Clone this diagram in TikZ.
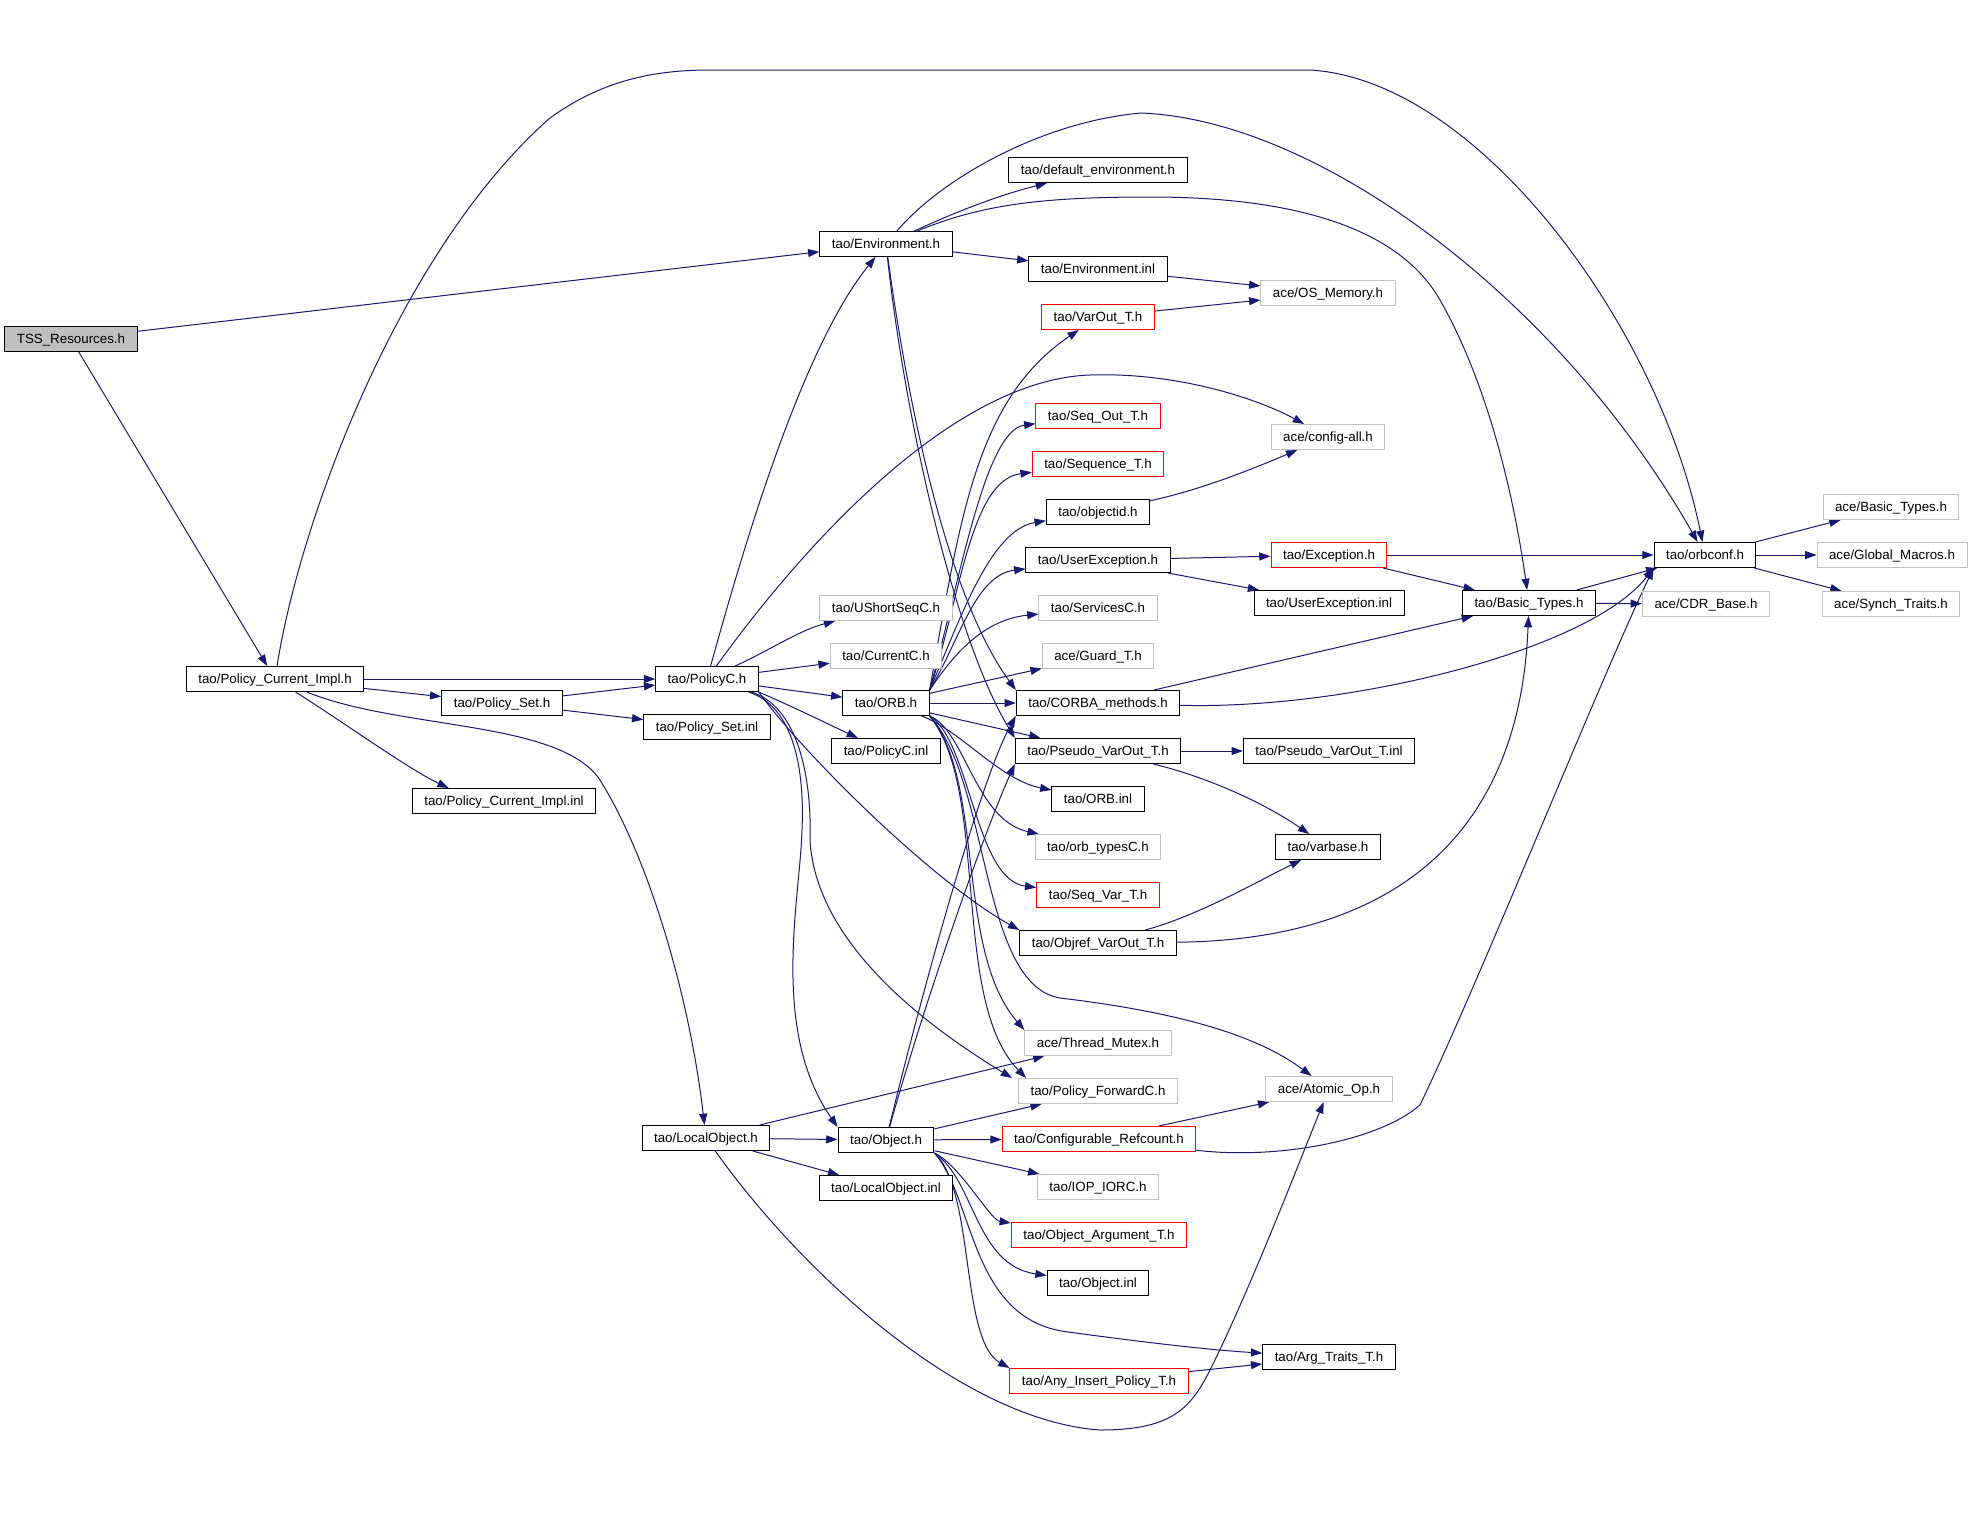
\documentclass[tikz,border=0pt]{standalone}
\usepackage{fontspec}
\setmainfont{Liberation Sans}
\usepackage{tikz}
\usetikzlibrary{calc,arrows.meta,backgrounds}
\definecolor{edgeblue}{HTML}{191970}
\definecolor{boxgray}{HTML}{BFBFBF}
\tikzset{
    header/.style={
        rectangle,
        draw=black,
        line width=0.75pt,
        fill=white,
        inner xsep=9pt,
        inner ysep=0pt,
        minimum height=18.75pt,
        text height=7.2pt,
        text depth=0pt,
        font=\fontsize{10}{12}\selectfont,
    },
    sysheader/.style={
        header,
        draw=boxgray,
    },
    redheader/.style={
        header,
        draw=red,
    },
    rootheader/.style={
        header,
        fill=boxgray,
    },
    connector/.style={
        -{Triangle[length=8.5pt,width=6pt]},
        color=edgeblue,
        line width=0.75pt,
    },
}

\begin{document}
\begin{tikzpicture}[x=0.75pt,y=-0.75pt]
    \useasboundingbox (0,0) rectangle (1971,1531);

    \node[rootheader](tss) at (71,339) {TSS\_Resources.h};
    \node[header](pci) at (275,679) {tao/Policy\_Current\_Impl.h};
    \node[header](polset) at (502,703) {tao/Policy\_Set.h};
    \node[header](pciinl) at (504,801) {tao/Policy\_Current\_Impl.inl};
    \node[header](policyc) at (707,679) {tao/PolicyC.h};
    \node[header](polsetinl) at (707,727) {tao/Policy\_Set.inl};
    \node[header](localobj) at (706,1138) {tao/LocalObject.h};

    \node[header](env) at (886,244) {tao/Environment.h};
    \node[sysheader](ushort) at (886,608) {tao/UShortSeqC.h};
    \node[sysheader](currentc) at (886,656) {tao/CurrentC.h};
    \node[header](orb) at (886,703) {tao/ORB.h};
    \node[header](policycinl) at (886,751) {tao/PolicyC.inl};
    \node[header](object) at (886,1140) {tao/Object.h};
    \node[header](localobjinl) at (886,1188) {tao/LocalObject.inl};

    \node[header](defenv) at (1098,170) {tao/default\_environment.h};
    \node[header](envinl) at (1098,269) {tao/Environment.inl};
    \node[redheader](varout) at (1098,317) {tao/VarOut\_T.h};
    \node[redheader](seqout) at (1098,416) {tao/Seq\_Out\_T.h};
    \node[redheader](seqt) at (1098,464) {tao/Sequence\_T.h};
    \node[header](objid) at (1098,512) {tao/objectid.h};
    \node[header](uexc) at (1098,560) {tao/UserException.h};
    \node[sysheader](services) at (1098,608) {tao/ServicesC.h};
    \node[sysheader](guard) at (1098,656) {ace/Guard\_T.h};
    \node[header](corba) at (1098,703) {tao/CORBA\_methods.h};
    \node[header](pseudo) at (1098,751) {tao/Pseudo\_VarOut\_T.h};
    \node[header](orbinl) at (1098,799) {tao/ORB.inl};
    \node[sysheader](orbtypes) at (1098,847) {tao/orb\_typesC.h};
    \node[redheader](seqvar) at (1098,895) {tao/Seq\_Var\_T.h};
    \node[header](objref) at (1098,943) {tao/Objref\_VarOut\_T.h};
    \node[sysheader](thmutex) at (1098,1043) {ace/Thread\_Mutex.h};
    \node[sysheader](polfwd) at (1098,1091) {tao/Policy\_ForwardC.h};
    \node[redheader](cfgref) at (1099,1139) {tao/Configurable\_Refcount.h};
    \node[sysheader](iop) at (1098,1187) {tao/IOP\_IORC.h};
    \node[redheader](objarg) at (1099,1235) {tao/Object\_Argument\_T.h};
    \node[header](objinl) at (1098,1283) {tao/Object.inl};
    \node[redheader](anyins) at (1099,1381) {tao/Any\_Insert\_Policy\_T.h};

    \node[sysheader](osmem) at (1328,293) {ace/OS\_Memory.h};
    \node[sysheader](cfgall) at (1328,437) {ace/config-all.h};
    \node[redheader](exc) at (1329,555) {tao/Exception.h};
    \node[header](uexcinl) at (1329,603) {tao/UserException.inl};
    \node[header](pseudoinl) at (1329,751) {tao/Pseudo\_VarOut\_T.inl};
    \node[header](varbase) at (1328,847) {tao/varbase.h};
    \node[sysheader](atomic) at (1329,1089) {ace/Atomic\_Op.h};
    \node[header](argtraits) at (1329,1357) {tao/Arg\_Traits\_T.h};

    \node[header](basictao) at (1529,603) {tao/Basic\_Types.h};
    \node[header](orbconf) at (1705,555) {tao/orbconf.h};
    \node[sysheader](cdr) at (1706,604) {ace/CDR\_Base.h};
    \node[sysheader](acebasic) at (1891,507) {ace/Basic\_Types.h};
    \node[sysheader](globmac) at (1892,555) {ace/Global\_Macros.h};
    \node[sysheader](synch) at (1891,604) {ace/Synch\_Traits.h};

    \begin{scope}[on background layer]
    \draw[connector] (tss) -- (pci);
    \draw[connector] (tss) -- (env);

    \draw[connector] (pci) .. controls (300,520) and (400,250) .. (550,118) .. controls (600,82) and (650,70) .. (710,70) -- (1310,70) .. controls (1480,80) and (1660,330) .. (orbconf);
    \draw[connector] (pci) -- (policyc);
    \draw[connector] (pci) -- (polset);
    \draw[connector] (pci) .. controls (340,720) and (410,770) .. ($(pciinl.north west)!0.2!(pciinl.north east)$);
    \draw[connector] (pci) .. controls (400,730) and (560,720) .. (600,780) .. controls (650,860) and (690,1000) .. (localobj);
    \draw[connector] (polset) -- (policyc);
    \draw[connector] (polset) -- (polsetinl);

    \draw[connector] (policyc) .. controls (740,560) and (800,350) .. (env);
    \draw[connector] (policyc) .. controls (800,550) and (950,380) .. (1090,375) .. controls (1180,372) and (1260,400) .. (cfgall);
    \draw[connector] (policyc) .. controls (770,650) and (800,630) .. (ushort);
    \draw[connector] (policyc) -- (currentc);
    \draw[connector] (policyc) -- (orb);
    \draw[connector] (policyc.south east) .. controls (800,710) and (830,725) .. (policycinl);
    \draw[connector] (policyc) .. controls (790,705) and (805,760) .. (802,830) .. controls (800,900) and (770,1030) .. (object.north west);
    \draw[connector] (policyc) .. controls (795,705) and (812,770) .. (810,840) .. controls (815,930) and (900,1010) .. ($(polfwd.north west)+(-6,0)$);
    \draw[connector] (policyc.south east) .. controls (800,750) and (930,880) .. (objref.north west);

    \draw[connector] (env) .. controls (960,210) and (1000,195) .. (defenv);
    \draw[connector] (env) -- (envinl);
    \draw[connector] (env) .. controls (940,180) and (1040,122) .. (1141,113) .. controls (1320,120) and (1560,300) .. (orbconf);
    \draw[connector] (env) .. controls (980,205) and (1040,197) .. (1150,197) .. controls (1300,197) and (1400,230) .. (1440,300) .. controls (1480,370) and (1510,470) .. (basictao);
    \draw[connector] (env) .. controls (910,420) and (950,600) .. (corba.north west);
    \draw[connector] (env) .. controls (905,420) and (955,640) .. (pseudo.north west);
    \draw[connector] (envinl) -- (osmem);
    \draw[connector] (varout) -- (osmem);
    \draw[connector] (objid) .. controls (1200,490) and (1250,470) .. (cfgall);

    \draw[connector] (orb.north east) .. controls (960,520) and (975,400) .. (varout);
    \draw[connector] (orb.north east) .. controls (960,580) and (985,430) .. (seqout);
    \draw[connector] (orb.north east) .. controls (960,600) and (970,480) .. (seqt);
    \draw[connector] (orb.north east) .. controls (960,620) and (990,530) .. (objid);
    \draw[connector] (orb.north east) .. controls (960,640) and (975,575) .. (uexc);
    \draw[connector] (orb.north east) .. controls (950,660) and (980,620) .. (services);
    \draw[connector] (orb) -- (guard);
    \draw[connector] (orb) -- (corba);
    \draw[connector] (orb) -- (pseudo);
    \draw[connector] (orb) .. controls (960,730) and (1000,780) .. (orbinl);
    \draw[connector] (orb.south east) .. controls (965,730) and (975,820) .. (orbtypes);
    \draw[connector] (orb.south east) .. controls (970,740) and (975,880) .. (seqvar);
    \draw[connector] (orb.south east) .. controls (985,780) and (955,950) .. (thmutex.north west);
    \draw[connector] (orb.south east) .. controls (990,790) and (950,1000) .. ($(polfwd.north west)+(8,0)$);
    \draw[connector] (orb.south east) .. controls (990,780) and (980,985) .. (1060,998) .. controls (1160,1010) and (1250,1030) .. (atomic);

    \draw[connector] (uexc) -- (exc);
    \draw[connector] (uexc) -- (uexcinl);
    \draw[connector] (exc) -- (orbconf);
    \draw[connector] (exc) -- (basictao);
    \draw[connector] (corba) -- (basictao);
    \draw[connector] (corba) .. controls (1350,710) and (1590,650) .. (orbconf.south west);
    \draw[connector] (pseudo) -- (pseudoinl);
    \draw[connector] (pseudo) .. controls (1200,775) and (1260,800) .. (varbase);
    \draw[connector] (objref) .. controls (1200,915) and (1260,880) .. (varbase);
    \draw[connector] (objref) .. controls (1400,940) and (1520,830) .. (basictao);
    \draw[connector] (basictao) -- (orbconf);
    \draw[connector] (basictao) -- (cdr);
    \draw[connector] (orbconf) -- (acebasic);
    \draw[connector] (orbconf) -- (globmac);
    \draw[connector] (orbconf) -- (synch);

    \draw[connector] (localobj) -- (object);
    \draw[connector] (localobj) -- (localobjinl);
    \draw[connector] (localobj) -- (thmutex);
    \draw[connector] (localobj) .. controls (800,1270) and (960,1420) .. (1100,1430) .. controls (1170,1430) and (1190,1410) .. (1210,1370) .. controls (1250,1290) and (1300,1160) .. (atomic);

    \draw[connector] (object) .. controls (920,1000) and (980,780) .. (corba.south west);
    \draw[connector] (object) .. controls (925,1000) and (985,830) .. (pseudo.south west);
    \draw[connector] (object) -- (polfwd);
    \draw[connector] (object) -- (cfgref);
    \draw[connector] (object) -- (iop);
    \draw[connector] (object.south east) .. controls (960,1165) and (990,1220) .. (objarg);
    \draw[connector] (object.south east) .. controls (975,1180) and (975,1265) .. (objinl);
    \draw[connector] (object.south east) .. controls (975,1200) and (970,1320) .. (1068,1332) .. controls (1150,1343) and (1210,1350) .. (argtraits);
    \draw[connector] (object.south east) .. controls (975,1190) and (960,1340) .. (anyins.north west);
    \draw[connector] (cfgref) -- (atomic);
    \draw[connector] (cfgref) .. controls (1280,1160) and (1380,1140) .. (1420,1105) .. controls (1480,980) and (1600,680) .. (orbconf.south west);
    \draw[connector] (anyins) -- (argtraits);
    \end{scope}
\end{tikzpicture}
\end{document}
